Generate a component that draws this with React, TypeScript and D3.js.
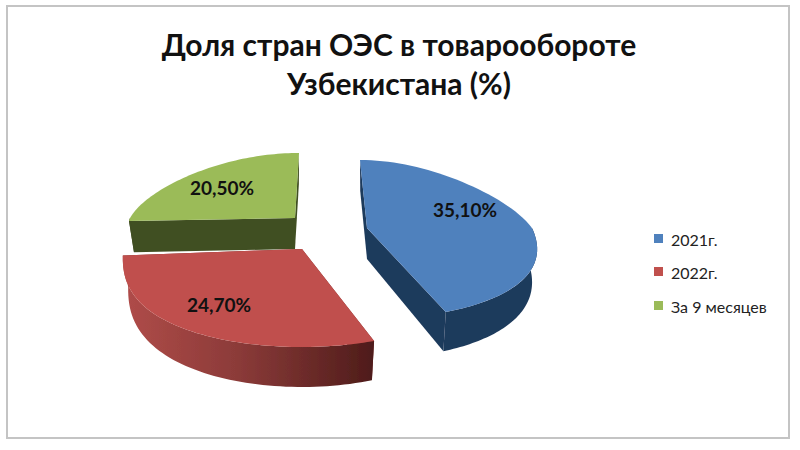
import React from "react";
import * as d3 from "d3";

const categories = ["2021г.", "2022г.", "За 9 месяцев"];
const values = [35.1, 24.7, 20.5];
const titleLines = ["Доля стран ОЭС в товарообороте", "Узбекистана (%)"];
const topColors = ["#4f81bd", "#c0504d", "#9bbb59"];
const wallColors = ["#1f3a5c", "#7a2e2c", "#414f22"];
// layout of each exploded slice
const centers: [number, number][] = [[367, 228], [302, 249], [295, 218]];
const radiiX = [165, 179, 165];
const radiiBottom = [91, 98, 90];
const radiiTop = [68, 67, 65];
const perspective = [0.26, 0.05, 0.2];
const skews = [-7, 0, 4];
const bulge = [1, 0.8, 1];
const labelPos: [number, number][] = [[465, 209], [219, 304], [222, 187]];
const legendY = [239, 272, 306];

const FONT = "Lato, 'Open Sans', 'Noto Sans', sans-serif";

function project(i: number, a: number, r = 1): [number, number] {
  const c = centers[i];
  const cos = Math.cos(a), sin = Math.sin(a);
  const ry = cos > 0 ? radiiTop[i] : radiiBottom[i];
  const k = 1 - perspective[i] * cos;
  const yy = Math.sign(cos) * Math.pow(Math.abs(cos), bulge[i]);
  return [c[0] + r * (radiiX[i] * sin * k + skews[i] * Math.max(0, cos)), c[1] - r * ry * yy];
}
function lower(i: number, a: number, r = 1): [number, number] {
  const c = centers[i];
  const p = project(i, a, r);
  const depth = 31 + 9 * Math.max(0, -Math.cos(a) * r);
  return [c[0] + (p[0] - c[0]) * 0.97, p[1] + depth];
}
const line = d3.line();
const arcPts = (a0: number, a1: number, f: (a: number) => [number, number]) =>
  d3.range(0, 61).map((j) => f(d3.interpolateNumber(a0, a1)(j / 60)));

export default function App() {
  const arcs = d3.pie<number>().sort(null)(values);
  const fmt = (v: number) => d3.format(".2f")(v).replace(".", ",") + "%";
  const parts = [2, 1, 0].map((i) => {
    const { startAngle: a0, endAngle: a1 } = arcs[i];
    const c = centers[i];
    const top = [c, ...arcPts(a0, a1, (a) => project(i, a))] as [number, number][];
    const lowC = lower(i, a0, 0);
    const walls: string[] = [];
    walls.push(line([c, project(i, a0), lower(i, a0), lowC])!);
    walls.push(line([c, project(i, a1), lower(i, a1), lowC])!);
    const from = Math.max(a0, Math.PI / 2), to = Math.min(a1, (3 * Math.PI) / 2);
    const outer = from < to
      ? line([...arcPts(from, to, (a) => project(i, a)), ...arcPts(to, from, (a) => lower(i, a))])!
      : null;
    return { i, top: line(top)! + "Z", walls, outer };
  });
  return (
    <svg width={800} height={450} viewBox="0 0 800 450"
      style={{ position: "absolute", left: 0, top: 0, background: "#fff" }}>
      <defs>
        <linearGradient id="redWall" x1="0" x2="1" y1="0" y2="0">
          <stop offset="0" stopColor="#b04c49" />
          <stop offset="0.45" stopColor="#8c3b39" />
          <stop offset="1" stopColor="#4e1c1a" />
        </linearGradient>
        <filter id="soft" x="-5%" y="-5%" width="110%" height="110%">
          <feGaussianBlur stdDeviation="0.5" />
        </filter>
      </defs>
      <rect x={7} y={6} width={782} height={432} fill="#fff" stroke="#c4c4c4" strokeWidth={2} />
      <g filter="url(#soft)">
        {parts.map((p) => (
          <g key={p.i}>
            {p.walls.map((d, j) => <path key={j} d={d} fill={wallColors[p.i]} />)}
            {p.outer && <path d={p.outer} fill={p.i === 1 ? "url(#redWall)" : wallColors[p.i]} />}
            <path d={p.top} fill={topColors[p.i]} />
          </g>
        ))}
      </g>
      {values.map((v, i) => (
        <text key={i} x={labelPos[i][0]} y={labelPos[i][1]} textAnchor="middle" dominantBaseline="central"
          fontFamily={FONT} fontWeight={700} fontSize={19} fill="#111">{fmt(v)}</text>
      ))}
      {titleLines.map((t, i) => (
        <text key={t} x={399} y={56 + i * 39} textAnchor="middle"
          fontFamily={FONT} fontWeight={700} fontSize={30} fill="#111">{t}</text>
      ))}
      {categories.map((c, i) => (
        <g key={c}>
          <rect x={654} y={legendY[i] - 5} width={9} height={9} fill={topColors[i]} />
          <text x={671} y={legendY[i]} dominantBaseline="central" fontFamily={FONT} fontSize={16} fill="#222">{c}</text>
        </g>
      ))}
    </svg>
  );
}
